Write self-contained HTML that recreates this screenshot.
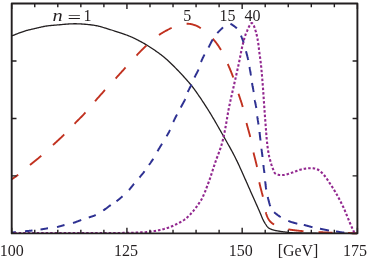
<!DOCTYPE html>
<html><head><meta charset="utf-8"><title>plot</title>
<style>
html,body{margin:0;padding:0;background:#fff;}
body{width:368px;height:260px;position:relative;overflow:hidden;font-family:"Liberation Serif",serif;}
</style></head><body>
<svg width="368" height="260" viewBox="0 0 368 260" style="position:absolute;left:0;top:0;will-change:transform">
<path d="M11.50 36.00 L12.28 35.70 L13.08 35.40 L13.87 35.09 L14.67 34.78 L15.47 34.46 L16.28 34.15 L17.08 33.84 L17.88 33.52 L18.67 33.22 L19.46 32.92 L20.24 32.62 L21.02 32.33 L21.78 32.06 L22.53 31.79 L23.27 31.54 L24.00 31.30 L24.71 31.08 L25.40 30.87 L26.08 30.67 L26.74 30.48 L27.40 30.30 L28.04 30.13 L28.68 29.97 L29.31 29.81 L29.94 29.66 L30.58 29.51 L31.21 29.36 L31.85 29.21 L32.50 29.07 L33.15 28.91 L33.82 28.76 L34.50 28.60 L35.19 28.44 L35.89 28.27 L36.59 28.10 L37.29 27.93 L38.00 27.76 L38.72 27.59 L39.44 27.42 L40.16 27.26 L40.88 27.09 L41.61 26.93 L42.34 26.78 L43.07 26.63 L43.80 26.49 L44.53 26.35 L45.27 26.22 L46.00 26.10 L46.73 25.99 L47.44 25.89 L48.15 25.79 L48.85 25.71 L49.55 25.63 L50.24 25.55 L50.95 25.48 L51.66 25.42 L52.38 25.35 L53.11 25.29 L53.86 25.23 L54.64 25.17 L55.43 25.10 L56.26 25.04 L57.11 24.97 L58.00 24.90 L58.93 24.82 L59.89 24.74 L60.88 24.65 L61.90 24.55 L62.94 24.46 L64.01 24.36 L65.09 24.26 L66.19 24.17 L67.29 24.08 L68.41 24.00 L69.52 23.93 L70.63 23.87 L71.74 23.82 L72.84 23.78 L73.93 23.76 L75.00 23.75 L76.07 23.76 L77.16 23.78 L78.27 23.82 L79.38 23.86 L80.51 23.92 L81.63 23.99 L82.75 24.06 L83.86 24.15 L84.96 24.24 L86.05 24.33 L87.11 24.44 L88.15 24.54 L89.17 24.65 L90.15 24.77 L91.10 24.88 L92.00 25.00 L92.84 25.11 L93.60 25.22 L94.29 25.32 L94.94 25.42 L95.54 25.52 L96.11 25.63 L96.67 25.74 L97.23 25.86 L97.81 25.99 L98.41 26.14 L99.04 26.31 L99.73 26.49 L100.48 26.70 L101.31 26.94 L102.23 27.20 L103.25 27.50 L104.39 27.83 L105.65 28.21 L107.01 28.61 L108.45 29.05 L109.96 29.52 L111.52 30.00 L113.12 30.50 L114.73 31.02 L116.36 31.54 L117.97 32.06 L119.55 32.58 L121.09 33.10 L122.57 33.60 L123.98 34.09 L125.29 34.56 L126.50 35.00 L127.61 35.42 L128.66 35.83 L129.65 36.23 L130.58 36.62 L131.47 37.00 L132.32 37.38 L133.13 37.75 L133.92 38.12 L134.69 38.50 L135.44 38.87 L136.18 39.25 L136.92 39.63 L137.67 40.02 L138.43 40.42 L139.20 40.83 L140.00 41.25 L140.81 41.68 L141.61 42.12 L142.41 42.55 L143.20 43.00 L143.98 43.44 L144.76 43.89 L145.54 44.35 L146.31 44.81 L147.09 45.28 L147.86 45.75 L148.63 46.24 L149.40 46.72 L150.17 47.22 L150.94 47.72 L151.72 48.23 L152.50 48.75 L153.28 49.28 L154.06 49.80 L154.84 50.34 L155.62 50.88 L156.41 51.42 L157.19 51.97 L157.97 52.53 L158.75 53.09 L159.53 53.67 L160.31 54.25 L161.09 54.85 L161.88 55.45 L162.66 56.07 L163.44 56.70 L164.22 57.34 L165.00 58.00 L165.78 58.67 L166.56 59.36 L167.34 60.05 L168.12 60.77 L168.91 61.49 L169.69 62.22 L170.47 62.97 L171.25 63.72 L172.03 64.48 L172.81 65.25 L173.59 66.03 L174.38 66.81 L175.16 67.60 L175.94 68.40 L176.72 69.20 L177.50 70.00 L178.29 70.82 L179.09 71.66 L179.91 72.51 L180.73 73.38 L181.56 74.27 L182.39 75.16 L183.21 76.06 L184.03 76.95 L184.84 77.85 L185.64 78.74 L186.43 79.62 L187.19 80.48 L187.93 81.33 L188.65 82.16 L189.34 82.97 L190.00 83.75 L190.62 84.49 L191.19 85.20 L191.74 85.87 L192.25 86.51 L192.73 87.13 L193.20 87.74 L193.65 88.34 L194.09 88.94 L194.53 89.54 L194.98 90.16 L195.43 90.80 L195.89 91.46 L196.38 92.16 L196.89 92.89 L197.43 93.67 L198.00 94.50 L198.61 95.38 L199.23 96.29 L199.88 97.24 L200.54 98.22 L201.22 99.22 L201.91 100.25 L202.60 101.31 L203.31 102.38 L204.03 103.46 L204.74 104.56 L205.46 105.67 L206.18 106.78 L206.89 107.90 L207.60 109.02 L208.31 110.14 L209.00 111.25 L209.68 112.35 L210.35 113.45 L211.01 114.53 L211.67 115.62 L212.32 116.71 L212.97 117.81 L213.62 118.91 L214.28 120.03 L214.94 121.17 L215.61 122.33 L216.30 123.52 L217.00 124.74 L217.71 125.99 L218.45 127.28 L219.21 128.62 L220.00 130.00 L220.82 131.44 L221.69 132.96 L222.58 134.53 L223.51 136.15 L224.46 137.82 L225.42 139.51 L226.39 141.23 L227.37 142.97 L228.35 144.71 L229.31 146.44 L230.27 148.16 L231.20 149.86 L232.11 151.53 L232.98 153.16 L233.81 154.73 L234.60 156.25 L235.35 157.72 L236.07 159.17 L236.77 160.60 L237.45 162.00 L238.10 163.39 L238.73 164.75 L239.35 166.09 L239.95 167.42 L240.54 168.73 L241.12 170.03 L241.69 171.30 L242.25 172.57 L242.80 173.82 L243.35 175.06 L243.90 176.28 L244.45 177.50 L244.99 178.70 L245.53 179.88 L246.05 181.05 L246.56 182.20 L247.06 183.33 L247.56 184.45 L248.04 185.55 L248.52 186.64 L249.00 187.72 L249.46 188.79 L249.93 189.84 L250.39 190.89 L250.84 191.93 L251.30 192.96 L251.75 193.98 L252.20 195.00 L252.65 196.02 L253.11 197.03 L253.56 198.04 L254.01 199.05 L254.46 200.05 L254.90 201.05 L255.34 202.03 L255.78 202.99 L256.21 203.95 L256.62 204.88 L257.03 205.80 L257.43 206.69 L257.82 207.56 L258.19 208.40 L258.55 209.22 L258.90 210.00 L259.23 210.76 L259.55 211.49 L259.85 212.21 L260.15 212.90 L260.43 213.57 L260.70 214.22 L260.96 214.85 L261.21 215.46 L261.46 216.05 L261.69 216.62 L261.92 217.17 L262.15 217.69 L262.37 218.20 L262.58 218.69 L262.79 219.15 L263.00 219.60 L263.20 220.02 L263.39 220.41 L263.57 220.76 L263.74 221.09 L263.90 221.39 L264.05 221.67 L264.20 221.94 L264.35 222.19 L264.49 222.42 L264.63 222.65 L264.77 222.87 L264.91 223.09 L265.05 223.31 L265.20 223.53 L265.35 223.76 L265.50 224.00 L265.66 224.24 L265.81 224.48 L265.96 224.72 L266.11 224.96 L266.26 225.19 L266.42 225.42 L266.57 225.64 L266.72 225.86 L266.87 226.08 L267.03 226.29 L267.18 226.49 L267.34 226.69 L267.50 226.88 L267.66 227.06 L267.83 227.23 L268.00 227.40 L268.17 227.56 L268.35 227.71 L268.52 227.85 L268.70 227.98 L268.88 228.10 L269.07 228.22 L269.25 228.34 L269.44 228.44 L269.63 228.55 L269.82 228.65 L270.01 228.74 L270.20 228.84 L270.40 228.93 L270.60 229.02 L270.80 229.11 L271.00 229.20 L271.20 229.29 L271.40 229.37 L271.60 229.45 L271.79 229.53 L271.99 229.60 L272.19 229.67 L272.39 229.74 L272.59 229.80 L272.80 229.86 L273.02 229.93 L273.24 229.99 L273.47 230.05 L273.71 230.11 L273.96 230.17 L274.23 230.24 L274.50 230.30 L274.79 230.37 L275.09 230.43 L275.40 230.50 L275.72 230.56 L276.05 230.63 L276.39 230.69 L276.74 230.76 L277.09 230.82 L277.45 230.88 L277.81 230.94 L278.18 231.01 L278.54 231.07 L278.91 231.13 L279.27 231.19 L279.64 231.24 L280.00 231.30 L280.36 231.36 L280.72 231.41 L281.08 231.46 L281.44 231.52 L281.80 231.57 L282.17 231.62 L282.54 231.67 L282.91 231.72 L283.28 231.77 L283.65 231.82 L284.03 231.86 L284.42 231.91 L284.81 231.96 L285.20 232.01 L285.60 232.05 L286.00 232.10 L286.37 232.15 L286.69 232.19 L286.96 232.24 L287.21 232.29 L287.44 232.33 L287.67 232.38 L287.92 232.42 L288.19 232.47 L288.50 232.51 L288.87 232.56 L289.30 232.60 L289.82 232.64 L290.44 232.68 L291.16 232.72 L292.01 232.76 L293.00 232.80 L294.12 232.84 L295.35 232.87 L296.68 232.91 L298.11 232.95 L299.62 232.98 L301.22 233.02 L302.89 233.05 L304.62 233.08 L306.42 233.11 L308.26 233.14 L310.15 233.17 L312.08 233.20 L314.03 233.23 L316.01 233.25 L318.00 233.28 L320.00 233.30 L322.04 233.32 L324.15 233.34 L326.32 233.36 L328.55 233.37 L330.82 233.38 L333.14 233.40 L335.50 233.41 L337.88 233.42 L340.27 233.43 L342.69 233.44 L345.10 233.45 L347.52 233.46 L349.92 233.47 L352.31 233.48 L354.67 233.49 L357.00 233.50" stroke="#231f20" stroke-width="1.3" fill="none" stroke-linejoin="round"/>
<path d="M11.70 179.30 L11.97 179.11 L12.22 178.93 L12.48 178.76 L12.72 178.59 L12.96 178.43 L13.20 178.27 L13.44 178.11 L13.67 177.96 L13.90 177.80 L14.14 177.64 L14.38 177.48 L14.62 177.32 L14.86 177.15 L15.12 176.98 L15.37 176.80 L15.64 176.61 L15.92 176.41 L16.20 176.21 L16.50 175.99 L16.81 175.76 L17.13 175.52 L17.47 175.26 L17.83 174.99 L18.20 174.70 M30.00 165.00 L30.48 164.61 L30.96 164.22 L31.43 163.83 L31.90 163.45 L32.37 163.07 L32.84 162.69 L33.31 162.31 L33.77 161.94 L34.24 161.56 L34.70 161.19 L35.16 160.82 L35.63 160.44 L36.09 160.06 L36.55 159.69 L37.02 159.31 L37.48 158.93 L37.95 158.54 L38.42 158.16 L38.88 157.77 L39.35 157.37 L39.82 156.97 L40.30 156.57 L40.77 156.16 L41.25 155.75 M53.00 145.00 L53.48 144.56 L53.96 144.12 L54.44 143.68 L54.92 143.24 L55.39 142.80 L55.87 142.36 L56.35 141.93 L56.82 141.49 L57.30 141.06 L57.77 140.62 L58.25 140.18 L58.72 139.75 L59.19 139.32 L59.66 138.88 L60.13 138.44 L60.59 138.01 L61.06 137.57 L61.52 137.14 L61.98 136.70 L62.44 136.26 L62.90 135.82 L63.35 135.38 L63.80 134.94 L64.25 134.50 M74.50 123.75 L74.95 123.29 L75.40 122.83 L75.85 122.37 L76.31 121.90 L76.77 121.44 L77.23 120.97 L77.70 120.51 L78.17 120.04 L78.64 119.57 L79.11 119.10 L79.58 118.63 L80.05 118.16 L80.52 117.68 L80.99 117.21 L81.45 116.74 L81.92 116.27 L82.38 115.80 L82.84 115.32 L83.29 114.85 L83.74 114.38 L84.19 113.91 L84.63 113.44 L85.07 112.97 L85.50 112.50 M95.00 101.25 L95.41 100.78 L95.81 100.31 L96.22 99.85 L96.63 99.38 L97.04 98.91 L97.45 98.44 L97.86 97.98 L98.27 97.51 L98.69 97.04 L99.10 96.58 L99.52 96.11 L99.93 95.64 L100.35 95.17 L100.77 94.71 L101.18 94.24 L101.60 93.77 L102.02 93.30 L102.45 92.83 L102.87 92.36 L103.29 91.89 L103.72 91.42 L104.14 90.95 L104.57 90.47 L105.00 90.00 M115.60 78.50 L116.03 78.03 L116.45 77.57 L116.87 77.11 L117.29 76.65 L117.71 76.19 L118.12 75.74 L118.53 75.29 L118.94 74.83 L119.35 74.38 L119.76 73.93 L120.17 73.48 L120.58 73.03 L120.99 72.58 L121.40 72.13 L121.81 71.68 L122.22 71.22 L122.64 70.77 L123.05 70.31 L123.47 69.85 L123.89 69.39 L124.31 68.92 L124.74 68.45 L125.17 67.98 L125.60 67.50 M136.50 55.50 L136.93 55.05 L137.36 54.60 L137.78 54.16 L138.19 53.72 L138.60 53.29 L139.00 52.87 L139.41 52.45 L139.81 52.04 L140.21 51.63 L140.60 51.22 L141.00 50.81 L141.40 50.41 L141.80 50.00 L142.20 49.60 L142.61 49.20 L143.01 48.80 L143.43 48.39 L143.85 47.99 L144.27 47.58 L144.70 47.17 L145.14 46.76 L145.58 46.34 L146.04 45.92 L146.50 45.50 M159.00 35.00 L159.53 34.63 L160.07 34.27 L160.61 33.91 L161.17 33.56 L161.73 33.21 L162.29 32.87 L162.85 32.53 L163.42 32.20 L163.99 31.87 L164.55 31.55 L165.11 31.24 L165.68 30.93 L166.23 30.63 L166.78 30.34 L167.32 30.05 L167.86 29.77 L168.38 29.49 L168.90 29.23 L169.40 28.97 L169.89 28.72 L170.37 28.48 L170.83 28.24 L171.27 28.02 L171.70 27.80 M186.60 23.80 L186.89 23.80 L187.17 23.79 L187.45 23.79 L187.72 23.80 L187.99 23.80 L188.25 23.81 L188.51 23.81 L188.77 23.83 L189.03 23.84 L189.28 23.86 L189.53 23.88 L189.79 23.91 L190.04 23.94 L190.29 23.97 L190.55 24.01 L190.81 24.05 L191.07 24.10 L191.33 24.15 L191.60 24.21 L191.87 24.28 L192.14 24.35 L192.42 24.43 L192.71 24.51 L193.00 24.60 L193.29 24.69 L193.59 24.79 L193.88 24.88 L194.17 24.97 L194.46 25.07 L194.75 25.16 L195.05 25.26 L195.34 25.37 L195.64 25.48 L195.94 25.59 L196.24 25.72 L196.55 25.85 L196.87 25.99 L197.18 26.13 L197.51 26.29 L197.84 26.46 L198.18 26.64 L198.53 26.83 L198.88 27.04 L199.24 27.26 L199.62 27.49 L200.00 27.75 L200.39 28.01 L200.80 28.30 M212.75 38.75 L213.17 39.20 L213.57 39.65 L213.97 40.10 L214.36 40.55 L214.74 40.99 L215.11 41.44 L215.47 41.89 L215.83 42.34 L216.18 42.79 L216.53 43.24 L216.87 43.70 L217.20 44.15 L217.53 44.61 L217.86 45.08 L218.18 45.54 L218.50 46.02 L218.81 46.49 L219.13 46.98 L219.44 47.46 L219.75 47.96 L220.07 48.46 L220.38 48.96 L220.69 49.48 L221.00 50.00 M227.75 64.00 L228.00 64.57 L228.25 65.13 L228.50 65.69 L228.74 66.25 L228.98 66.80 L229.22 67.35 L229.45 67.89 L229.69 68.44 L229.92 68.98 L230.14 69.52 L230.37 70.06 L230.59 70.61 L230.82 71.16 L231.04 71.71 L231.26 72.26 L231.48 72.81 L231.70 73.38 L231.92 73.94 L232.14 74.52 L232.36 75.10 L232.58 75.68 L232.80 76.28 L233.03 76.89 L233.25 77.50 M238.50 93.75 L238.70 94.36 L238.89 94.95 L239.08 95.53 L239.27 96.10 L239.46 96.66 L239.64 97.21 L239.83 97.75 L240.01 98.29 L240.19 98.82 L240.37 99.34 L240.54 99.87 L240.72 100.39 L240.89 100.91 L241.07 101.44 L241.24 101.96 L241.41 102.49 L241.58 103.02 L241.75 103.56 L241.91 104.11 L242.08 104.67 L242.25 105.23 L242.42 105.81 L242.58 106.40 L242.75 107.00 M246.50 123.00 L246.66 123.62 L246.81 124.23 L246.97 124.84 L247.13 125.43 L247.29 126.02 L247.45 126.61 L247.61 127.18 L247.77 127.76 L247.93 128.33 L248.09 128.90 L248.25 129.47 L248.41 130.03 L248.56 130.60 L248.72 131.16 L248.88 131.73 L249.04 132.30 L249.19 132.87 L249.35 133.44 L249.50 134.02 L249.65 134.60 L249.81 135.19 L249.96 135.79 L250.10 136.39 L250.25 137.00 M253.50 152.50 L253.64 153.12 L253.79 153.74 L253.93 154.36 L254.08 154.97 L254.23 155.57 L254.39 156.18 L254.54 156.78 L254.69 157.38 L254.85 157.98 L255.00 158.58 L255.16 159.17 L255.31 159.77 L255.46 160.36 L255.61 160.96 L255.76 161.56 L255.91 162.15 L256.06 162.75 L256.20 163.35 L256.34 163.95 L256.48 164.55 L256.62 165.16 L256.75 165.77 L256.88 166.38 L257.00 167.00 M259.30 182.20 L259.43 182.83 L259.56 183.46 L259.70 184.10 L259.85 184.75 L260.01 185.41 L260.17 186.07 L260.33 186.73 L260.50 187.39 L260.66 188.04 L260.83 188.70 L261.00 189.35 L261.17 190.00 L261.34 190.64 L261.51 191.27 L261.68 191.89 L261.84 192.50 L261.99 193.10 L262.15 193.68 L262.29 194.25 L262.43 194.80 L262.56 195.33 L262.68 195.84 L262.80 196.33 L262.90 196.80 M265.80 212.20 L265.86 212.44 L265.92 212.67 L265.97 212.89 L266.03 213.09 L266.08 213.28 L266.13 213.46 L266.18 213.64 L266.22 213.80 L266.27 213.96 L266.31 214.11 L266.36 214.25 L266.40 214.39 L266.44 214.52 L266.49 214.65 L266.53 214.78 L266.58 214.91 L266.62 215.04 L266.67 215.17 L266.72 215.30 L266.77 215.43 L266.83 215.56 L266.88 215.70 L266.94 215.85 L267.00 216.00 L267.06 216.15 L267.13 216.31 L267.19 216.47 L267.26 216.62 L267.33 216.78 L267.40 216.94 L267.47 217.09 L267.54 217.25 L267.61 217.40 L267.69 217.56 L267.76 217.71 L267.84 217.87 L267.91 218.02 L267.99 218.17 L268.07 218.32 L268.15 218.47 L268.23 218.62 L268.31 218.77 L268.39 218.91 L268.47 219.05 L268.55 219.19 L268.63 219.33 L268.72 219.47 L268.80 219.60 L268.88 219.73 L268.97 219.86 L269.05 219.98 L269.13 220.11 L269.22 220.23 L269.30 220.35 L269.39 220.47 L269.47 220.59 L269.56 220.70 L269.64 220.81 L269.73 220.93 L269.82 221.04 L269.91 221.15 L270.00 221.26 L270.09 221.36 L270.19 221.47 L270.28 221.58 L270.38 221.68 L270.48 221.79 L270.58 221.89 L270.68 221.99 L270.78 222.10 L270.89 222.20 L271.00 222.30 L271.11 222.40 L271.22 222.50 L271.33 222.59 L271.43 222.69 L271.54 222.78 L271.65 222.87 L271.75 222.96 L271.86 223.05 L271.97 223.14 L272.09 223.22 L272.20 223.31 L272.32 223.39 L272.44 223.48 L272.56 223.57 L272.69 223.65 L272.83 223.74 L272.96 223.83 L273.11 223.92 L273.26 224.01 L273.41 224.10 L273.57 224.20 L273.74 224.30 L273.92 224.40 L274.10 224.50 M288.30 229.40 L288.80 229.48 L289.33 229.56 L289.87 229.65 L290.44 229.73 L291.02 229.81 L291.62 229.89 L292.23 229.97 L292.86 230.06 L293.50 230.14 L294.15 230.22 L294.81 230.30 L295.48 230.38 L296.15 230.45 L296.83 230.53 L297.51 230.60 L298.19 230.68 L298.87 230.75 L299.55 230.82 L300.23 230.89 L300.90 230.96 L301.56 231.02 L302.22 231.08 L302.86 231.14 L303.50 231.20 M318.50 232.10 L319.10 232.13 L319.70 232.16 L320.29 232.19 L320.87 232.22 L321.46 232.25 L322.04 232.28 L322.61 232.31 L323.19 232.33 L323.76 232.36 L324.33 232.39 L324.90 232.41 L325.47 232.44 L326.04 232.46 L326.61 232.49 L327.18 232.51 L327.76 232.53 L328.34 232.56 L328.92 232.58 L329.50 232.60 L330.09 232.62 L330.69 232.64 L331.28 232.66 L331.89 232.68 L332.50 232.70 M348.00 233.00 L348.50 233.01 L348.98 233.03 L349.44 233.05 L349.88 233.06 L350.30 233.08 L350.71 233.09 L351.10 233.11 L351.48 233.13 L351.85 233.14 L352.21 233.16 L352.56 233.18 L352.91 233.19 L353.24 233.21 L353.58 233.23 L353.91 233.25 L354.24 233.26 L354.57 233.28 L354.90 233.30 L355.24 233.31 L355.58 233.33 L355.92 233.35 L356.27 233.37 L356.63 233.38 L357.00 233.40" stroke="#c1311f" stroke-width="1.9" fill="none" stroke-linejoin="round"/>
<path d="M11.50 232.50 L11.68 232.49 L11.86 232.48 L12.03 232.47 L12.20 232.46 L12.36 232.45 L12.52 232.44 L12.68 232.43 L12.83 232.42 L12.99 232.42 L13.15 232.41 L13.31 232.40 L13.47 232.39 L13.63 232.38 L13.81 232.37 L13.98 232.36 L14.17 232.35 L14.36 232.34 L14.56 232.32 L14.77 232.30 L14.99 232.29 L15.22 232.27 L15.47 232.25 L15.73 232.22 L16.00 232.20 M25.00 231.25 L25.34 231.22 L25.68 231.18 L26.01 231.15 L26.33 231.12 L26.65 231.08 L26.97 231.05 L27.28 231.02 L27.59 230.99 L27.90 230.97 L28.21 230.94 L28.51 230.91 L28.81 230.88 L29.11 230.85 L29.42 230.82 L29.72 230.79 L30.02 230.76 L30.32 230.73 L30.62 230.70 L30.93 230.67 L31.24 230.64 L31.55 230.60 L31.86 230.57 L32.18 230.54 L32.50 230.50 M40.50 229.50 L40.82 229.45 L41.14 229.40 L41.45 229.36 L41.76 229.31 L42.07 229.26 L42.38 229.21 L42.68 229.15 L42.98 229.10 L43.28 229.05 L43.58 229.00 L43.89 228.94 L44.19 228.89 L44.49 228.84 L44.79 228.78 L45.10 228.73 L45.41 228.68 L45.72 228.62 L46.03 228.57 L46.35 228.51 L46.67 228.46 L46.99 228.41 L47.32 228.35 L47.66 228.30 L48.00 228.25 M57.00 227.00 L57.34 226.93 L57.67 226.86 L58.00 226.79 L58.33 226.71 L58.64 226.63 L58.96 226.55 L59.27 226.47 L59.57 226.39 L59.88 226.30 L60.18 226.22 L60.48 226.13 L60.78 226.05 L61.08 225.96 L61.38 225.87 L61.68 225.78 L61.98 225.69 L62.28 225.61 L62.59 225.52 L62.90 225.43 L63.21 225.34 L63.52 225.26 L63.84 225.17 L64.17 225.08 L64.50 225.00 M73.00 223.00 L73.35 222.89 L73.70 222.78 L74.05 222.67 L74.40 222.55 L74.75 222.43 L75.10 222.31 L75.45 222.18 L75.80 222.06 L76.15 221.93 L76.49 221.80 L76.84 221.66 L77.19 221.53 L77.53 221.40 L77.88 221.27 L78.22 221.13 L78.56 221.00 L78.91 220.87 L79.25 220.74 L79.58 220.61 L79.92 220.48 L80.26 220.36 L80.59 220.24 L80.92 220.12 L81.25 220.00 M88.75 217.50 L89.05 217.40 L89.35 217.30 L89.65 217.20 L89.94 217.11 L90.23 217.01 L90.52 216.92 L90.81 216.83 L91.10 216.74 L91.39 216.65 L91.68 216.56 L91.96 216.47 L92.25 216.38 L92.54 216.28 L92.82 216.18 L93.11 216.08 L93.40 215.98 L93.69 215.88 L93.98 215.77 L94.27 215.65 L94.56 215.53 L94.85 215.41 L95.15 215.28 L95.45 215.14 L95.75 215.00 M103.25 210.50 L103.56 210.29 L103.88 210.07 L104.20 209.85 L104.52 209.62 L104.84 209.39 L105.17 209.15 L105.49 208.92 L105.81 208.68 L106.14 208.43 L106.46 208.19 L106.79 207.95 L107.11 207.70 L107.43 207.46 L107.75 207.22 L108.07 206.98 L108.38 206.74 L108.69 206.51 L109.00 206.28 L109.30 206.05 L109.60 205.83 L109.90 205.61 L110.19 205.40 L110.47 205.20 L110.75 205.00 M116.50 201.25 L116.74 201.07 L116.99 200.88 L117.23 200.69 L117.48 200.50 L117.73 200.31 L117.97 200.12 L118.22 199.92 L118.46 199.72 L118.71 199.52 L118.96 199.32 L119.20 199.11 L119.45 198.91 L119.70 198.70 L119.95 198.49 L120.20 198.27 L120.45 198.06 L120.71 197.84 L120.96 197.62 L121.21 197.39 L121.47 197.17 L121.72 196.94 L121.98 196.71 L122.24 196.48 L122.50 196.25 M129.00 190.00 L129.24 189.74 L129.47 189.48 L129.69 189.22 L129.91 188.96 L130.13 188.70 L130.34 188.44 L130.55 188.18 L130.76 187.92 L130.96 187.66 L131.16 187.40 L131.36 187.14 L131.56 186.88 L131.76 186.61 L131.96 186.35 L132.15 186.09 L132.35 185.83 L132.55 185.57 L132.75 185.31 L132.95 185.05 L133.16 184.79 L133.36 184.53 L133.57 184.27 L133.78 184.01 L134.00 183.75 M139.50 177.50 L139.72 177.24 L139.94 176.98 L140.15 176.72 L140.37 176.46 L140.58 176.20 L140.80 175.94 L141.01 175.68 L141.22 175.42 L141.43 175.16 L141.64 174.90 L141.85 174.64 L142.06 174.38 L142.27 174.11 L142.48 173.85 L142.68 173.59 L142.89 173.33 L143.09 173.07 L143.30 172.81 L143.50 172.55 L143.70 172.29 L143.90 172.03 L144.10 171.77 L144.30 171.51 L144.50 171.25 M149.00 165.00 L149.18 164.74 L149.36 164.48 L149.54 164.23 L149.72 163.97 L149.90 163.72 L150.08 163.47 L150.26 163.21 L150.44 162.96 L150.61 162.71 L150.79 162.46 L150.96 162.21 L151.14 161.95 L151.32 161.70 L151.49 161.44 L151.67 161.19 L151.84 160.93 L152.02 160.66 L152.19 160.40 L152.37 160.13 L152.54 159.86 L152.72 159.59 L152.90 159.31 L153.07 159.03 L153.25 158.75 M157.50 151.25 L157.68 150.94 L157.87 150.62 L158.05 150.31 L158.24 150.00 L158.42 149.69 L158.61 149.38 L158.79 149.06 L158.98 148.75 L159.17 148.44 L159.36 148.12 L159.55 147.81 L159.73 147.50 L159.92 147.19 L160.11 146.88 L160.30 146.56 L160.49 146.25 L160.68 145.94 L160.87 145.62 L161.06 145.31 L161.25 145.00 L161.44 144.69 L161.62 144.38 L161.81 144.06 L162.00 143.75 M166.50 136.25 L166.67 135.97 L166.83 135.69 L166.99 135.42 L167.14 135.16 L167.30 134.90 L167.45 134.64 L167.60 134.39 L167.75 134.14 L167.90 133.89 L168.04 133.65 L168.19 133.40 L168.33 133.16 L168.47 132.91 L168.61 132.66 L168.75 132.42 L168.89 132.17 L169.03 131.91 L169.17 131.66 L169.30 131.39 L169.44 131.13 L169.58 130.86 L169.72 130.58 L169.86 130.29 L170.00 130.00 M173.25 122.00 L173.40 121.68 L173.54 121.36 L173.69 121.04 L173.85 120.72 L174.00 120.40 L174.15 120.08 L174.31 119.76 L174.46 119.44 L174.62 119.13 L174.78 118.81 L174.94 118.50 L175.09 118.19 L175.25 117.88 L175.41 117.56 L175.57 117.25 L175.73 116.94 L175.89 116.64 L176.05 116.33 L176.21 116.02 L176.37 115.72 L176.53 115.41 L176.69 115.11 L176.84 114.80 L177.00 114.50 M180.75 107.50 L180.92 107.17 L181.11 106.84 L181.29 106.50 L181.48 106.15 L181.67 105.80 L181.87 105.45 L182.07 105.09 L182.27 104.72 L182.47 104.36 L182.67 103.99 L182.88 103.62 L183.08 103.25 L183.28 102.88 L183.48 102.51 L183.68 102.14 L183.87 101.78 L184.06 101.41 L184.25 101.05 L184.43 100.70 L184.61 100.35 L184.78 100.00 L184.94 99.66 L185.10 99.33 L185.25 99.00 M187.75 92.00 L187.88 91.70 L188.02 91.39 L188.16 91.08 L188.31 90.77 L188.46 90.46 L188.62 90.15 L188.77 89.83 L188.94 89.52 L189.10 89.20 L189.26 88.89 L189.43 88.57 L189.59 88.25 L189.76 87.93 L189.93 87.61 L190.09 87.30 L190.26 86.98 L190.42 86.67 L190.59 86.35 L190.75 86.04 L190.90 85.73 L191.06 85.42 L191.21 85.11 L191.36 84.80 L191.50 84.50 M194.50 77.50 L194.65 77.19 L194.80 76.87 L194.96 76.54 L195.13 76.22 L195.29 75.89 L195.46 75.56 L195.64 75.22 L195.81 74.89 L195.99 74.55 L196.17 74.21 L196.35 73.87 L196.53 73.53 L196.71 73.19 L196.89 72.85 L197.07 72.51 L197.24 72.17 L197.41 71.83 L197.58 71.49 L197.75 71.15 L197.91 70.82 L198.06 70.48 L198.22 70.15 L198.36 69.82 L198.50 69.50 M201.00 62.00 L201.13 61.69 L201.26 61.37 L201.39 61.06 L201.52 60.74 L201.66 60.43 L201.79 60.11 L201.93 59.80 L202.07 59.48 L202.22 59.17 L202.36 58.85 L202.51 58.53 L202.66 58.22 L202.81 57.90 L202.96 57.59 L203.11 57.28 L203.26 56.96 L203.41 56.65 L203.57 56.34 L203.72 56.03 L203.88 55.72 L204.03 55.41 L204.19 55.11 L204.34 54.80 L204.50 54.50 M208.50 47.50 L208.67 47.18 L208.84 46.86 L209.02 46.54 L209.19 46.20 L209.36 45.87 L209.54 45.53 L209.71 45.19 L209.89 44.84 L210.06 44.50 L210.24 44.15 L210.41 43.80 L210.59 43.46 L210.77 43.11 L210.95 42.76 L211.12 42.42 L211.30 42.08 L211.48 41.74 L211.66 41.40 L211.84 41.07 L212.02 40.75 L212.20 40.43 L212.38 40.11 L212.57 39.80 L212.75 39.50 M217.30 33.20 L217.52 32.95 L217.74 32.69 L217.97 32.43 L218.21 32.17 L218.45 31.91 L218.69 31.65 L218.94 31.39 L219.19 31.13 L219.44 30.87 L219.69 30.62 L219.95 30.36 L220.20 30.11 L220.46 29.86 L220.71 29.61 L220.96 29.36 L221.21 29.12 L221.45 28.89 L221.69 28.66 L221.92 28.43 L222.15 28.21 L222.38 28.00 L222.59 27.79 L222.80 27.59 L223.00 27.40 M230.40 23.80 L230.62 23.90 L230.86 24.01 L231.11 24.14 L231.37 24.29 L231.65 24.45 L231.93 24.62 L232.22 24.81 L232.52 25.00 L232.83 25.21 L233.13 25.42 L233.44 25.64 L233.75 25.86 L234.06 26.08 L234.36 26.30 L234.66 26.53 L234.96 26.75 L235.24 26.97 L235.52 27.19 L235.78 27.40 L236.04 27.60 L236.28 27.79 L236.50 27.97 L236.71 28.14 L236.90 28.30 M241.00 35.60 L241.10 35.85 L241.20 36.10 L241.31 36.37 L241.41 36.64 L241.52 36.91 L241.64 37.19 L241.75 37.47 L241.86 37.76 L241.98 38.05 L242.10 38.35 L242.21 38.65 L242.33 38.96 L242.45 39.27 L242.57 39.58 L242.69 39.89 L242.80 40.21 L242.92 40.53 L243.04 40.85 L243.15 41.17 L243.27 41.50 L243.38 41.82 L243.49 42.15 L243.59 42.47 L243.70 42.80 M246.00 51.25 L246.10 51.61 L246.19 51.97 L246.29 52.34 L246.39 52.71 L246.49 53.08 L246.59 53.46 L246.69 53.83 L246.79 54.21 L246.89 54.59 L246.99 54.96 L247.09 55.34 L247.19 55.72 L247.29 56.09 L247.39 56.46 L247.48 56.83 L247.58 57.20 L247.67 57.57 L247.76 57.93 L247.85 58.29 L247.93 58.64 L248.02 58.99 L248.10 59.33 L248.18 59.67 L248.25 60.00 M249.50 67.00 L249.56 67.33 L249.62 67.66 L249.68 68.00 L249.74 68.34 L249.80 68.69 L249.87 69.04 L249.93 69.40 L250.00 69.76 L250.07 70.12 L250.13 70.49 L250.20 70.85 L250.27 71.22 L250.33 71.59 L250.40 71.95 L250.46 72.32 L250.53 72.69 L250.59 73.05 L250.65 73.41 L250.72 73.77 L250.78 74.12 L250.83 74.48 L250.89 74.82 L250.95 75.16 L251.00 75.50 M252.00 83.00 L252.06 83.35 L252.12 83.70 L252.18 84.06 L252.25 84.42 L252.32 84.79 L252.39 85.17 L252.46 85.55 L252.54 85.93 L252.61 86.31 L252.69 86.69 L252.77 87.08 L252.85 87.47 L252.92 87.86 L253.00 88.24 L253.08 88.63 L253.16 89.02 L253.23 89.40 L253.30 89.79 L253.38 90.16 L253.45 90.54 L253.51 90.91 L253.58 91.28 L253.64 91.64 L253.70 92.00 M254.75 100.00 L254.81 100.33 L254.86 100.67 L254.92 101.00 L254.99 101.33 L255.05 101.66 L255.12 101.99 L255.18 102.33 L255.25 102.66 L255.32 102.99 L255.39 103.32 L255.46 103.65 L255.53 103.98 L255.60 104.32 L255.67 104.65 L255.74 104.98 L255.81 105.31 L255.88 105.65 L255.94 105.98 L256.01 106.32 L256.07 106.65 L256.13 106.99 L256.19 107.32 L256.25 107.66 L256.30 108.00 M257.25 116.25 L257.30 116.59 L257.34 116.94 L257.39 117.29 L257.44 117.63 L257.50 117.98 L257.55 118.33 L257.60 118.68 L257.65 119.03 L257.71 119.38 L257.76 119.73 L257.82 120.07 L257.87 120.42 L257.93 120.77 L257.98 121.12 L258.04 121.46 L258.09 121.81 L258.14 122.15 L258.20 122.49 L258.25 122.83 L258.30 123.17 L258.35 123.50 L258.40 123.84 L258.45 124.17 L258.50 124.50 M259.50 132.00 L259.54 132.34 L259.58 132.67 L259.62 133.02 L259.67 133.36 L259.71 133.71 L259.75 134.06 L259.79 134.41 L259.83 134.77 L259.88 135.13 L259.92 135.48 L259.96 135.84 L260.00 136.20 L260.04 136.56 L260.08 136.93 L260.12 137.29 L260.17 137.65 L260.21 138.01 L260.25 138.37 L260.29 138.73 L260.33 139.09 L260.38 139.44 L260.42 139.80 L260.46 140.15 L260.50 140.50 M261.50 148.75 L261.54 149.09 L261.58 149.44 L261.63 149.78 L261.67 150.13 L261.71 150.47 L261.75 150.82 L261.79 151.16 L261.84 151.51 L261.88 151.85 L261.92 152.20 L261.96 152.55 L262.01 152.89 L262.05 153.24 L262.09 153.58 L262.13 153.92 L262.17 154.27 L262.22 154.61 L262.26 154.96 L262.30 155.30 L262.34 155.64 L262.38 155.98 L262.42 156.32 L262.46 156.66 L262.50 157.00 M263.40 165.00 L263.44 165.33 L263.48 165.67 L263.52 166.00 L263.56 166.33 L263.61 166.66 L263.65 166.99 L263.69 167.33 L263.73 167.66 L263.78 167.99 L263.82 168.32 L263.86 168.65 L263.91 168.98 L263.95 169.32 L263.99 169.65 L264.04 169.98 L264.08 170.31 L264.12 170.65 L264.16 170.98 L264.20 171.32 L264.24 171.65 L264.28 171.99 L264.32 172.32 L264.36 172.66 L264.40 173.00 M265.20 181.25 L265.24 181.59 L265.27 181.94 L265.31 182.29 L265.35 182.63 L265.39 182.98 L265.42 183.33 L265.46 183.68 L265.50 184.03 L265.54 184.38 L265.57 184.73 L265.61 185.07 L265.65 185.42 L265.69 185.77 L265.73 186.12 L265.78 186.46 L265.82 186.81 L265.86 187.15 L265.91 187.49 L265.95 187.83 L266.00 188.17 L266.05 188.50 L266.10 188.84 L266.15 189.17 L266.20 189.50 M267.75 197.00 L267.84 197.36 L267.93 197.73 L268.02 198.11 L268.12 198.51 L268.22 198.92 L268.33 199.33 L268.43 199.75 L268.54 200.18 L268.65 200.60 L268.76 201.03 L268.87 201.46 L268.99 201.89 L269.10 202.31 L269.21 202.73 L269.33 203.14 L269.44 203.55 L269.55 203.94 L269.66 204.32 L269.76 204.68 L269.87 205.04 L269.97 205.37 L270.06 205.68 L270.16 205.98 L270.25 206.25 M274.10 212.20 L274.29 212.36 L274.49 212.53 L274.70 212.71 L274.93 212.90 L275.16 213.10 L275.41 213.30 L275.67 213.50 L275.93 213.71 L276.20 213.92 L276.48 214.14 L276.77 214.36 L277.06 214.58 L277.35 214.80 L277.65 215.02 L277.95 215.25 L278.26 215.47 L278.57 215.69 L278.87 215.90 L279.18 216.11 L279.49 216.32 L279.80 216.53 L280.10 216.72 L280.40 216.92 L280.70 217.10 M288.30 220.90 L288.65 221.04 L289.01 221.17 L289.38 221.31 L289.75 221.44 L290.13 221.58 L290.51 221.71 L290.90 221.84 L291.29 221.97 L291.68 222.09 L292.08 222.22 L292.47 222.34 L292.87 222.46 L293.26 222.58 L293.66 222.70 L294.05 222.81 L294.43 222.92 L294.82 223.03 L295.19 223.14 L295.56 223.24 L295.93 223.34 L296.29 223.43 L296.63 223.53 L296.97 223.61 L297.30 223.70 M303.80 224.90 L304.12 224.98 L304.45 225.06 L304.79 225.14 L305.14 225.23 L305.49 225.32 L305.85 225.42 L306.21 225.51 L306.58 225.61 L306.95 225.72 L307.33 225.82 L307.71 225.93 L308.09 226.03 L308.47 226.14 L308.85 226.24 L309.23 226.35 L309.61 226.45 L309.98 226.55 L310.36 226.66 L310.73 226.75 L311.09 226.85 L311.45 226.94 L311.81 227.03 L312.16 227.12 L312.50 227.20 M320.00 228.70 L320.35 228.77 L320.70 228.84 L321.07 228.92 L321.44 228.99 L321.81 229.07 L322.19 229.15 L322.58 229.23 L322.96 229.31 L323.35 229.39 L323.74 229.47 L324.14 229.56 L324.53 229.64 L324.92 229.72 L325.32 229.80 L325.71 229.88 L326.09 229.96 L326.48 230.03 L326.86 230.11 L327.23 230.18 L327.60 230.25 L327.96 230.32 L328.32 230.38 L328.66 230.44 L329.00 230.50 M336.00 231.40 L336.32 231.45 L336.64 231.50 L336.95 231.55 L337.27 231.60 L337.59 231.65 L337.90 231.71 L338.22 231.76 L338.54 231.82 L338.86 231.88 L339.19 231.94 L339.52 232.00 L339.85 232.06 L340.19 232.12 L340.53 232.17 L340.88 232.23 L341.24 232.29 L341.60 232.35 L341.97 232.40 L342.35 232.45 L342.74 232.51 L343.14 232.56 L343.55 232.61 L343.97 232.66 L344.40 232.70" stroke="#2e3192" stroke-width="2" fill="none" stroke-linejoin="round"/>
<path d="M11.70 233.05 L14.73 233.05 L17.79 233.05 L20.87 233.05 L23.97 233.05 L27.07 233.05 L30.18 233.05 L33.28 233.05 L36.37 233.05 L39.44 233.05 L42.50 233.05 L45.52 233.05 L48.51 233.05 L51.46 233.05 L54.36 233.05 L57.21 233.05 L60.00 233.05 L62.76 233.05 L65.50 233.05 L68.24 233.04 L70.95 233.04 L73.63 233.04 L76.29 233.04 L78.91 233.03 L81.49 233.03 L84.02 233.03 L86.50 233.02 L88.92 233.02 L91.28 233.02 L93.58 233.01 L95.80 233.01 L97.94 233.00 L100.00 233.00 L101.97 233.00 L103.87 232.99 L105.68 232.99 L107.43 232.99 L109.10 232.98 L110.72 232.98 L112.28 232.98 L113.78 232.97 L115.24 232.97 L116.65 232.97 L118.03 232.96 L119.37 232.95 L120.68 232.94 L121.97 232.93 L123.24 232.92 L124.50 232.90 L125.73 232.88 L126.91 232.86 L128.04 232.84 L129.14 232.82 L130.19 232.79 L131.21 232.77 L132.20 232.74 L133.16 232.71 L134.08 232.68 L134.99 232.65 L135.86 232.62 L136.72 232.59 L137.56 232.55 L138.39 232.52 L139.20 232.49 L140.00 232.45 L140.77 232.42 L141.50 232.39 L142.19 232.36 L142.84 232.33 L143.46 232.30 L144.06 232.27 L144.65 232.24 L145.22 232.21 L145.78 232.18 L146.35 232.14 L146.91 232.09 L147.49 232.04 L148.08 231.98 L148.69 231.91 L149.33 231.84 L150.00 231.75 L150.70 231.65 L151.42 231.55 L152.15 231.44 L152.91 231.32 L153.67 231.19 L154.44 231.06 L155.22 230.93 L156.00 230.78 L156.78 230.64 L157.56 230.49 L158.33 230.33 L159.09 230.17 L159.85 230.01 L160.58 229.84 L161.30 229.67 L162.00 229.50 L162.68 229.33 L163.33 229.16 L163.97 229.00 L164.59 228.83 L165.21 228.66 L165.81 228.49 L166.41 228.31 L167.00 228.12 L167.59 227.93 L168.19 227.73 L168.79 227.52 L169.41 227.30 L170.03 227.06 L170.67 226.81 L171.32 226.54 L172.00 226.25 L172.70 225.94 L173.44 225.62 L174.19 225.27 L174.96 224.92 L175.75 224.54 L176.55 224.16 L177.35 223.76 L178.16 223.36 L178.95 222.95 L179.74 222.53 L180.52 222.11 L181.27 221.69 L182.00 221.26 L182.70 220.84 L183.37 220.42 L184.00 220.00 L184.59 219.58 L185.16 219.17 L185.70 218.75 L186.22 218.33 L186.72 217.90 L187.20 217.47 L187.66 217.04 L188.11 216.61 L188.55 216.17 L188.98 215.73 L189.40 215.29 L189.82 214.84 L190.24 214.39 L190.65 213.93 L191.07 213.47 L191.50 213.00 L191.93 212.53 L192.35 212.05 L192.77 211.56 L193.18 211.07 L193.59 210.57 L193.99 210.07 L194.39 209.57 L194.78 209.06 L195.17 208.55 L195.55 208.04 L195.93 207.53 L196.30 207.02 L196.67 206.51 L197.04 206.01 L197.40 205.50 L197.75 205.00 L198.09 204.51 L198.43 204.05 L198.75 203.61 L199.06 203.18 L199.36 202.76 L199.66 202.34 L199.96 201.92 L200.25 201.48 L200.54 201.04 L200.84 200.57 L201.14 200.07 L201.44 199.54 L201.75 198.98 L202.07 198.37 L202.41 197.71 L202.75 197.00 L203.11 196.23 L203.47 195.42 L203.84 194.57 L204.22 193.68 L204.61 192.75 L205.00 191.79 L205.40 190.81 L205.80 189.80 L206.20 188.77 L206.60 187.72 L207.00 186.65 L207.41 185.58 L207.81 184.50 L208.21 183.42 L208.61 182.33 L209.00 181.25 L209.39 180.16 L209.78 179.04 L210.17 177.90 L210.56 176.74 L210.95 175.57 L211.34 174.38 L211.73 173.19 L212.12 171.98 L212.52 170.78 L212.91 169.57 L213.30 168.37 L213.69 167.17 L214.08 165.98 L214.47 164.80 L214.86 163.64 L215.25 162.50 L215.65 161.37 L216.05 160.24 L216.46 159.11 L216.88 157.98 L217.30 156.86 L217.71 155.74 L218.13 154.62 L218.55 153.52 L218.96 152.42 L219.36 151.32 L219.75 150.24 L220.13 149.17 L220.50 148.11 L220.85 147.06 L221.18 146.02 L221.50 145.00 L221.79 144.01 L222.07 143.06 L222.32 142.14 L222.56 141.25 L222.78 140.38 L222.99 139.52 L223.19 138.67 L223.39 137.81 L223.58 136.95 L223.77 136.06 L223.96 135.16 L224.15 134.22 L224.35 133.24 L224.56 132.22 L224.77 131.14 L225.00 130.00 L225.23 128.80 L225.47 127.55 L225.70 126.25 L225.94 124.90 L226.18 123.52 L226.42 122.11 L226.66 120.68 L226.91 119.22 L227.15 117.75 L227.40 116.27 L227.66 114.78 L227.92 113.30 L228.18 111.83 L228.45 110.36 L228.72 108.92 L229.00 107.50 L229.29 106.09 L229.58 104.67 L229.88 103.25 L230.19 101.82 L230.51 100.38 L230.82 98.95 L231.15 97.52 L231.47 96.09 L231.79 94.67 L232.12 93.25 L232.44 91.85 L232.76 90.45 L233.08 89.06 L233.39 87.69 L233.70 86.34 L234.00 85.00 L234.30 83.67 L234.60 82.35 L234.90 81.02 L235.20 79.71 L235.49 78.40 L235.79 77.10 L236.08 75.81 L236.38 74.53 L236.66 73.27 L236.94 72.02 L237.22 70.80 L237.49 69.59 L237.76 68.40 L238.01 67.24 L238.26 66.11 L238.50 65.00 L238.73 63.91 L238.96 62.83 L239.18 61.76 L239.39 60.70 L239.60 59.66 L239.80 58.64 L240.00 57.63 L240.19 56.66 L240.37 55.71 L240.55 54.78 L240.72 53.89 L240.89 53.04 L241.05 52.22 L241.21 51.43 L241.36 50.69 L241.50 50.00 L241.63 49.36 L241.75 48.79 L241.86 48.28 L241.96 47.82 L242.05 47.41 L242.13 47.03 L242.21 46.68 L242.29 46.34 L242.36 46.02 L242.44 45.71 L242.52 45.39 L242.60 45.07 L242.68 44.72 L242.78 44.35 L242.88 43.95 L243.00 43.50 L243.13 43.02 L243.26 42.51 L243.39 41.99 L243.53 41.45 L243.68 40.90 L243.83 40.34 L243.98 39.77 L244.14 39.21 L244.29 38.64 L244.45 38.08 L244.61 37.52 L244.77 36.98 L244.93 36.46 L245.09 35.95 L245.25 35.46 L245.40 35.00 L245.55 34.56 L245.71 34.13 L245.87 33.72 L246.03 33.32 L246.20 32.92 L246.36 32.54 L246.52 32.17 L246.68 31.81 L246.85 31.46 L247.01 31.12 L247.16 30.78 L247.32 30.45 L247.47 30.13 L247.62 29.82 L247.76 29.51 L247.90 29.20 L248.03 28.90 L248.16 28.61 L248.29 28.33 L248.41 28.05 L248.53 27.78 L248.64 27.52 L248.75 27.27 L248.87 27.02 L248.98 26.79 L249.08 26.55 L249.19 26.33 L249.30 26.11 L249.41 25.90 L249.52 25.69 L249.64 25.49 L249.75 25.30 L249.87 25.11 L249.98 24.92 L250.10 24.73 L250.22 24.55 L250.34 24.37 L250.45 24.20 L250.57 24.03 L250.69 23.88 L250.81 23.73 L250.92 23.59 L251.04 23.47 L251.16 23.36 L251.27 23.27 L251.38 23.20 L251.49 23.14 L251.60 23.10 L251.71 23.08 L251.81 23.08 L251.92 23.09 L252.02 23.12 L252.12 23.17 L252.22 23.23 L252.32 23.30 L252.42 23.38 L252.52 23.48 L252.61 23.58 L252.71 23.70 L252.81 23.82 L252.91 23.96 L253.00 24.10 L253.10 24.25 L253.20 24.40 L253.30 24.56 L253.40 24.74 L253.49 24.93 L253.59 25.13 L253.69 25.34 L253.79 25.55 L253.88 25.78 L253.98 26.02 L254.08 26.26 L254.17 26.51 L254.27 26.77 L254.37 27.03 L254.46 27.29 L254.56 27.56 L254.65 27.83 L254.75 28.10 L254.85 28.38 L254.94 28.66 L255.04 28.95 L255.13 29.24 L255.23 29.54 L255.33 29.85 L255.42 30.16 L255.52 30.48 L255.61 30.80 L255.71 31.12 L255.80 31.45 L255.89 31.77 L255.98 32.10 L256.07 32.44 L256.16 32.77 L256.25 33.10 L256.34 33.43 L256.42 33.77 L256.50 34.11 L256.59 34.45 L256.67 34.80 L256.75 35.14 L256.83 35.49 L256.91 35.85 L256.98 36.20 L257.06 36.56 L257.14 36.92 L257.21 37.28 L257.28 37.64 L257.36 38.01 L257.43 38.38 L257.50 38.75 L257.57 39.12 L257.64 39.50 L257.71 39.87 L257.77 40.25 L257.84 40.63 L257.90 41.02 L257.97 41.40 L258.03 41.79 L258.09 42.18 L258.15 42.57 L258.21 42.97 L258.27 43.37 L258.33 43.77 L258.39 44.18 L258.44 44.59 L258.50 45.00 L258.55 45.41 L258.60 45.80 L258.65 46.18 L258.69 46.56 L258.73 46.93 L258.78 47.31 L258.82 47.69 L258.86 48.08 L258.90 48.48 L258.94 48.90 L258.99 49.34 L259.04 49.81 L259.10 50.31 L259.16 50.83 L259.23 51.40 L259.30 52.00 L259.38 52.63 L259.47 53.29 L259.56 53.97 L259.66 54.66 L259.76 55.38 L259.87 56.13 L259.98 56.90 L260.09 57.69 L260.20 58.51 L260.32 59.35 L260.43 60.22 L260.55 61.12 L260.67 62.04 L260.78 63.00 L260.89 63.98 L261.00 65.00 L261.11 66.05 L261.22 67.13 L261.33 68.25 L261.43 69.39 L261.54 70.57 L261.65 71.77 L261.76 73.00 L261.87 74.25 L261.98 75.53 L262.09 76.83 L262.20 78.15 L262.31 79.48 L262.42 80.84 L262.53 82.21 L262.64 83.60 L262.75 85.00 L262.86 86.43 L262.97 87.92 L263.08 89.45 L263.19 91.02 L263.31 92.61 L263.42 94.23 L263.53 95.86 L263.64 97.50 L263.75 99.14 L263.86 100.77 L263.97 102.39 L264.08 103.98 L264.19 105.55 L264.29 107.08 L264.40 108.57 L264.50 110.00 L264.60 111.40 L264.70 112.79 L264.80 114.17 L264.90 115.54 L265.00 116.89 L265.10 118.22 L265.20 119.53 L265.30 120.81 L265.39 122.07 L265.49 123.31 L265.58 124.51 L265.67 125.68 L265.75 126.82 L265.84 127.92 L265.92 128.98 L266.00 130.00 L266.08 130.97 L266.15 131.89 L266.21 132.76 L266.27 133.59 L266.33 134.37 L266.39 135.13 L266.45 135.86 L266.50 136.56 L266.55 137.25 L266.61 137.92 L266.67 138.59 L266.73 139.26 L266.79 139.93 L266.85 140.60 L266.92 141.29 L267.00 142.00 L267.08 142.72 L267.16 143.44 L267.24 144.16 L267.33 144.88 L267.42 145.60 L267.50 146.31 L267.59 147.02 L267.69 147.72 L267.78 148.41 L267.88 149.10 L267.98 149.78 L268.08 150.45 L268.18 151.11 L268.29 151.75 L268.39 152.38 L268.50 153.00 L268.61 153.60 L268.72 154.19 L268.84 154.76 L268.95 155.32 L269.07 155.87 L269.19 156.41 L269.31 156.95 L269.44 157.47 L269.56 157.99 L269.69 158.50 L269.82 159.00 L269.95 159.50 L270.09 160.00 L270.22 160.50 L270.36 161.00 L270.50 161.50 L270.64 162.00 L270.79 162.50 L270.93 163.00 L271.08 163.50 L271.23 164.00 L271.38 164.50 L271.53 164.99 L271.69 165.47 L271.84 165.95 L272.00 166.41 L272.17 166.87 L272.33 167.32 L272.49 167.76 L272.66 168.19 L272.83 168.60 L273.00 169.00 L273.17 169.39 L273.32 169.77 L273.47 170.15 L273.61 170.52 L273.75 170.88 L273.89 171.23 L274.04 171.58 L274.19 171.91 L274.35 172.22 L274.52 172.53 L274.71 172.82 L274.92 173.09 L275.15 173.35 L275.41 173.58 L275.69 173.80 L276.00 174.00 L276.35 174.18 L276.72 174.34 L277.13 174.48 L277.56 174.60 L278.01 174.71 L278.48 174.80 L278.97 174.88 L279.47 174.94 L279.98 174.99 L280.49 175.02 L281.01 175.04 L281.52 175.05 L282.03 175.06 L282.53 175.05 L283.02 175.03 L283.50 175.00 L283.96 174.96 L284.42 174.90 L284.87 174.83 L285.32 174.75 L285.76 174.65 L286.20 174.54 L286.65 174.41 L287.09 174.28 L287.55 174.14 L288.00 173.99 L288.47 173.84 L288.95 173.68 L289.44 173.51 L289.94 173.34 L290.46 173.17 L291.00 173.00 L291.56 172.82 L292.14 172.62 L292.74 172.40 L293.35 172.18 L293.98 171.94 L294.62 171.70 L295.27 171.45 L295.92 171.20 L296.58 170.96 L297.23 170.71 L297.88 170.48 L298.53 170.25 L299.17 170.04 L299.79 169.84 L300.40 169.66 L301.00 169.50 L301.58 169.36 L302.16 169.22 L302.74 169.09 L303.30 168.98 L303.87 168.87 L304.43 168.77 L304.98 168.67 L305.53 168.59 L306.08 168.52 L306.62 168.45 L307.15 168.40 L307.68 168.35 L308.20 168.31 L308.72 168.28 L309.24 168.26 L309.75 168.25 L310.26 168.24 L310.76 168.24 L311.25 168.24 L311.74 168.25 L312.22 168.27 L312.70 168.29 L313.18 168.32 L313.65 168.37 L314.12 168.42 L314.58 168.49 L315.03 168.58 L315.49 168.68 L315.93 168.81 L316.38 168.95 L316.82 169.11 L317.25 169.30 L317.68 169.51 L318.10 169.74 L318.51 169.98 L318.92 170.24 L319.32 170.52 L319.72 170.82 L320.11 171.14 L320.50 171.47 L320.89 171.81 L321.27 172.17 L321.66 172.54 L322.04 172.93 L322.43 173.33 L322.82 173.74 L323.21 174.16 L323.60 174.60 L324.00 175.05 L324.39 175.52 L324.78 176.01 L325.18 176.52 L325.57 177.05 L325.97 177.59 L326.36 178.14 L326.75 178.70 L327.15 179.27 L327.54 179.85 L327.93 180.44 L328.33 181.03 L328.72 181.62 L329.11 182.21 L329.51 182.81 L329.90 183.40 L330.29 183.99 L330.68 184.57 L331.07 185.16 L331.45 185.74 L331.84 186.33 L332.22 186.92 L332.60 187.52 L332.99 188.12 L333.37 188.74 L333.76 189.37 L334.16 190.01 L334.55 190.67 L334.96 191.35 L335.36 192.04 L335.78 192.76 L336.20 193.50 L336.63 194.27 L337.07 195.06 L337.52 195.87 L337.98 196.70 L338.44 197.55 L338.91 198.42 L339.38 199.30 L339.85 200.19 L340.33 201.10 L340.80 202.01 L341.26 202.92 L341.73 203.84 L342.18 204.76 L342.63 205.68 L343.07 206.59 L343.50 207.50 L343.92 208.42 L344.35 209.36 L344.77 210.33 L345.18 211.31 L345.60 212.30 L346.01 213.29 L346.41 214.29 L346.82 215.28 L347.21 216.26 L347.60 217.23 L347.98 218.19 L348.35 219.11 L348.72 220.01 L349.07 220.88 L349.42 221.71 L349.75 222.50 L350.08 223.26 L350.40 224.01 L350.72 224.74 L351.03 225.46 L351.33 226.16 L351.63 226.84 L351.92 227.49 L352.20 228.12 L352.47 228.73 L352.73 229.30 L352.98 229.84 L353.21 230.35 L353.43 230.82 L353.64 231.26 L353.83 231.65 L354.00 232.00 L354.15 232.30 L354.28 232.53 L354.39 232.71 L354.48 232.85 L354.55 232.94 L354.61 233.00 L354.66 233.03 L354.70 233.03 L354.74 233.02 L354.77 233.00 L354.80 232.97 L354.83 232.95 L354.86 232.93 L354.90 232.93 L354.94 232.95 L355.00 233.00" stroke="#92278f" stroke-width="2.1" stroke-dasharray="2.5 2" stroke-dashoffset="2.03" fill="none" stroke-linejoin="round"/>
<path d="M11.70 233.4 v-5.6 M11.70 3.45 v5.6 M34.75 233.4 v-3.7 M34.75 3.45 v3.7 M57.79 233.4 v-3.7 M57.79 3.45 v3.7 M80.84 233.4 v-3.7 M80.84 3.45 v3.7 M103.89 233.4 v-3.7 M103.89 3.45 v3.7 M126.93 233.4 v-5.6 M126.93 3.45 v5.6 M149.98 233.4 v-3.7 M149.98 3.45 v3.7 M173.03 233.4 v-3.7 M173.03 3.45 v3.7 M196.07 233.4 v-3.7 M196.07 3.45 v3.7 M219.12 233.4 v-3.7 M219.12 3.45 v3.7 M242.17 233.4 v-5.6 M242.17 3.45 v5.6 M265.21 233.4 v-3.7 M265.21 3.45 v3.7 M288.26 233.4 v-3.7 M288.26 3.45 v3.7 M311.31 233.4 v-3.7 M311.31 3.45 v3.7 M334.35 233.4 v-3.7 M334.35 3.45 v3.7 M357.40 233.4 v-5.6 M357.40 3.45 v5.6 M11.7 60.94 h4.8 M357.4 60.94 h-4.8 M11.7 118.43 h4.8 M357.4 118.43 h-4.8 M11.7 175.91 h4.8 M357.4 175.91 h-4.8" stroke="#231f20" stroke-width="1.4" fill="none"/>
<rect x="11.7" y="3.45" width="345.7" height="229.95000000000002" stroke="#231f20" stroke-width="1.9" stroke-linejoin="round" fill="none"/>
<g font-family="Liberation Serif, serif" font-size="16.5" fill="#231f20"><text x="-0.3" y="256.2" textLength="24" lengthAdjust="spacingAndGlyphs">100</text><text x="114.1" y="256.2" textLength="24" lengthAdjust="spacingAndGlyphs">125</text><text x="228.7" y="256.2" textLength="24" lengthAdjust="spacingAndGlyphs">150</text><text x="277.8" y="256.2" textLength="40.6" lengthAdjust="spacingAndGlyphs">[GeV]</text><text x="342.9" y="256.2" textLength="24" lengthAdjust="spacingAndGlyphs">175</text><text x="52.6" y="21.0" textLength="10.2" lengthAdjust="spacingAndGlyphs" font-style="italic">n</text><text x="67.6" y="22.7" textLength="13.6" lengthAdjust="spacingAndGlyphs">=</text><text x="83.4" y="21.0" textLength="8" lengthAdjust="spacingAndGlyphs">1</text><text x="183.2" y="21.0" textLength="8" lengthAdjust="spacingAndGlyphs">5</text><text x="219.4" y="21.0" textLength="16" lengthAdjust="spacingAndGlyphs">15</text><text x="244.6" y="21.0" textLength="16" lengthAdjust="spacingAndGlyphs">40</text></g>
</svg>
</body></html>
